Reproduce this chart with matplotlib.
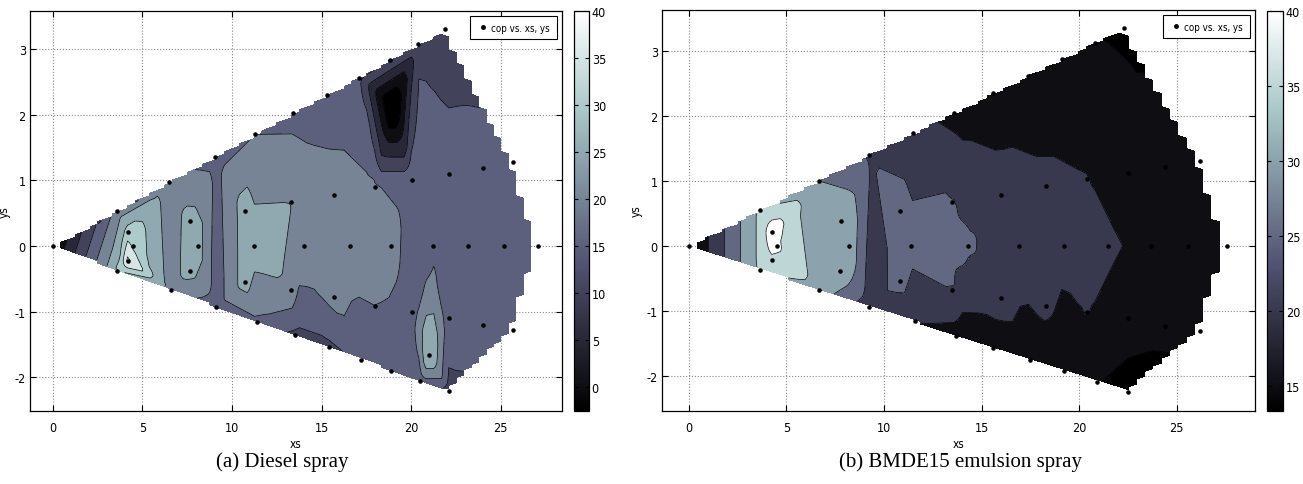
import numpy as np
import matplotlib
matplotlib.use("Agg")
import matplotlib.pyplot as plt
import matplotlib.tri as mtri
from matplotlib.colors import Normalize
from matplotlib.cm import ScalarMappable
from matplotlib.lines import Line2D

plt.rcParams['axes.unicode_minus'] = False
SANS = 'DejaVu Sans'
STRETCH = 'condensed'

# ---------------- Panel (a): Diesel spray ----------------
a_center_x = [0, 4.5, 8.1, 11.2, 14.0, 16.6, 18.9, 21.2, 23.2, 25.2, 27.1]
a_center_y = [0] * 11
a_center_cop = [0, 34, 27.5, 28, 24.5, 23, 22, 18.5, 18, 17.5, 17]

a_midup_x = [4.2, 7.65, 10.7, 13.3, 15.7, 18.0, 20.05, 22.1, 24.0, 25.7]
a_midup_y = [0.21, 0.38, 0.53, 0.67, 0.78, 0.9, 1.0, 1.1, 1.19, 1.28]
a_midup_cop = [33, 27, 27.5, 25, 22.5, 20.3, 18, 17.5, 17.5, 17]

a_midlo_x = [4.2, 7.65, 10.7, 13.3, 15.7, 18.0, 20.05, 22.1, 24.0, 25.7]
a_midlo_y = [-0.22, -0.38, -0.54, -0.67, -0.78, -0.91, -1.0, -1.1, -1.2, -1.28]
a_midlo_cop = [42, 27, 27.5, 24, 22, 20, 17, 17, 17.5, 17]

a_edgeup_x = [3.6, 6.5, 9.05, 11.3, 13.4, 15.3, 17.1, 18.8, 20.4, 21.9]
a_edgeup_y = [0.53, 0.98, 1.36, 1.7, 2.02, 2.3, 2.56, 2.83, 3.07, 3.3]
a_edgeup_cop = [22, 22, 18, 20, 18.5, 17, 16, 15, 14, 12]

a_edgelo_x = [3.6, 6.6, 9.1, 11.4, 13.5, 15.4, 17.2, 18.9, 20.5, 22.1]
a_edgelo_y = [-0.38, -0.67, -0.93, -1.15, -1.35, -1.53, -1.73, -1.9, -2.05, -2.2]
a_edgelo_cop = [30, 23, 17, 19, 14, 14, 16, 17, 19, 14]

a_extra_x = [19.0, 21.0]
a_extra_y = [2.15, -1.65]
a_extra_cop = [-8, 32]

a_levels = [-30, 0, 5, 10, 15, 20, 25, 30, 35, 40, 60]
a_clim = (-2.5, 40)
a_cbar_ticks = [0, 5, 10, 15, 20, 25, 30, 35, 40]

# ---------------- Panel (b): BMDE15 emulsion spray ----------------
b_center_x = [0, 4.5, 8.2, 11.4, 14.3, 16.9, 19.2, 21.5, 23.7, 25.6, 27.6]
b_center_y = [0] * 11
b_center_cop = [14, 41, 34.5, 27, 25.8, 23.5, 22, 21, 18, 16, 16]

b_midup_x = [4.26, 7.8, 10.8, 13.5, 16.0, 18.3, 20.4, 22.5, 24.4, 26.2]
b_midup_y = [0.21, 0.38, 0.54, 0.67, 0.79, 0.92, 1.03, 1.12, 1.22, 1.31]
b_midup_cop = [44, 34.5, 27, 25.5, 23, 21.5, 20.2, 17, 16, 16]

b_midlo_x = [4.26, 7.74, 10.8, 13.5, 16.0, 18.3, 20.4, 22.5, 24.4, 26.2]
b_midlo_y = [-0.22, -0.38, -0.54, -0.68, -0.8, -0.92, -1.02, -1.11, -1.23, -1.31]
b_midlo_cop = [39, 34.5, 27, 25, 22.5, 21.5, 20.2, 17, 16, 16]

b_edgeup_x = [3.64, 6.67, 9.23, 11.5, 13.6, 15.6, 17.4, 19.1, 20.8, 22.3]
b_edgeup_y = [0.55, 1.0, 1.4, 1.74, 2.05, 2.35, 2.62, 2.88, 3.12, 3.35]
b_edgeup_cop = [36, 30, 24.5, 22, 18.5, 16, 15.5, 15.5, 15.2, 14.5]

b_edgelo_x = [3.64, 6.67, 9.23, 11.6, 13.7, 15.6, 17.5, 19.2, 20.9, 22.5]
b_edgelo_y = [-0.37, -0.68, -0.94, -1.15, -1.38, -1.57, -1.75, -1.92, -2.09, -2.25]
b_edgelo_cop = [36, 33, 22, 20.5, 18, 17, 16, 15.5, 15.2, 13.3]

b_levels = [0, 15, 20, 25, 30, 35, 40, 60]
b_clim = (13.3, 40)
b_cbar_ticks = [15, 20, 25, 30, 35, 40]

x_ticks = [0, 5, 10, 15, 20, 25]
y_ticks = [-2, -1, 0, 1, 2, 3]
captions = ["(a) Diesel spray", "(b) BMDE15 emulsion spray"]
legend_label = "cop vs. xs, ys"

GRID_NX, GRID_NY = 66, 140

bone = matplotlib.colormaps['bone']


def gather(*groups):
    x = np.concatenate([np.asarray(g[0], float) for g in groups])
    y = np.concatenate([np.asarray(g[1], float) for g in groups])
    c = np.concatenate([np.asarray(g[2], float) for g in groups])
    return x, y, c


def style_text(t, size):
    t.set_family(SANS)
    t.set_stretch(STRETCH)
    t.set_fontsize(size)


def draw_panel(fig, ax_rect, cax_rect, x, y, c, levels, clim, cticks,
               xlim, ylim, caption, caption_x, ylab_x):
    ax = fig.add_axes(ax_rect)
    cax = fig.add_axes(cax_rect)
    tri = mtri.Triangulation(x, y)
    interp = mtri.LinearTriInterpolator(tri, c)
    xi = np.linspace(x.min(), x.max(), GRID_NX)
    yi = np.linspace(y.min(), y.max(), GRID_NY)
    X, Y = np.meshgrid(xi, yi)
    Z = interp(X, Y)
    vmin, vmax = clim
    cols = [bone(np.clip((max(L, vmin) - vmin) / (vmax - vmin), 0, 1))
            for L in levels[:-1]]
    ax.contourf(X, Y, Z, levels=levels, colors=cols, zorder=1)
    ax.contour(X, Y, Z, levels=levels[1:-1], colors='k', linewidths=0.5,
               zorder=2)
    ax.plot(x, y, '.', color='k', markersize=4.5, zorder=3)
    ax.set_xlim(*xlim)
    ax.set_ylim(*ylim)
    ax.set_xticks(x_ticks)
    ax.set_yticks(y_ticks)
    ax.grid(True, linestyle=':', color='#888888', linewidth=0.8, zorder=0)
    ax.set_axisbelow(True)
    ax.tick_params(direction='in', top=True, right=True, length=4)
    ax.tick_params(axis='x', pad=7)
    ax.tick_params(axis='y', pad=3)
    for lab in ax.get_xticklabels() + ax.get_yticklabels():
        style_text(lab, 9)
    for s in ax.spines.values():
        s.set_linewidth(0.9)
    xl = ax.set_xlabel('xs', labelpad=2)
    yl = ax.set_ylabel('ys')
    ax.yaxis.set_label_coords(ylab_x, 0.5)
    style_text(xl, 8.5)
    style_text(yl, 8.5)
    h = Line2D([], [], marker='.', color='k', linestyle='none', markersize=5)
    leg = ax.legend([h], [legend_label], loc='upper right', fancybox=False,
                    framealpha=1, edgecolor='k', borderaxespad=0.5,
                    handletextpad=0.2, handlelength=1.3,
                    prop={'family': SANS, 'stretch': STRETCH, 'size': 7},
                    borderpad=0.7)
    leg.get_frame().set_linewidth(0.8)
    sm = ScalarMappable(norm=Normalize(vmin, vmax), cmap=bone)
    cb = fig.colorbar(sm, cax=cax, ticks=cticks)
    cb.outline.set_linewidth(0.9)
    cax.tick_params(direction='in', left=True, right=True, length=3, pad=2)
    for lab in cax.get_yticklabels():
        style_text(lab, 9)
    fig.text(caption_x, 0.047, caption, ha='center', va='center',
             family=['Liberation Serif', 'DejaVu Serif'], fontsize=15)
    return ax


fig = plt.figure(figsize=(13.03, 4.85), dpi=100)

ax_x, ax_y, ax_c = gather((a_center_x, a_center_y, a_center_cop),
                          (a_midup_x, a_midup_y, a_midup_cop),
                          (a_midlo_x, a_midlo_y, a_midlo_cop),
                          (a_edgeup_x, a_edgeup_y, a_edgeup_cop),
                          (a_edgelo_x, a_edgelo_y, a_edgelo_cop),
                          (a_extra_x, a_extra_y, a_extra_cop))
draw_panel(fig, [0.023, 0.1505, 0.408, 0.825], [0.4405, 0.1505, 0.0115, 0.825],
           ax_x, ax_y, ax_c, a_levels, a_clim, a_cbar_ticks,
           (-1.28, 28.4), (-2.51, 3.58), captions[0], 0.2165, -0.036)

bx_x, bx_y, bx_c = gather((b_center_x, b_center_y, b_center_cop),
                          (b_midup_x, b_midup_y, b_midup_cop),
                          (b_midlo_x, b_midlo_y, b_midlo_cop),
                          (b_edgeup_x, b_edgeup_y, b_edgeup_cop),
                          (b_edgelo_x, b_edgelo_y, b_edgelo_cop))
draw_panel(fig, [0.508, 0.1505, 0.455, 0.827], [0.9724, 0.1505, 0.0123, 0.825],
           bx_x, bx_y, bx_c, b_levels, b_clim, b_cbar_ticks,
           (-1.38, 29.0), (-2.54, 3.63), captions[1], 0.737, -0.032)

fig.savefig('out.png', dpi=100)
